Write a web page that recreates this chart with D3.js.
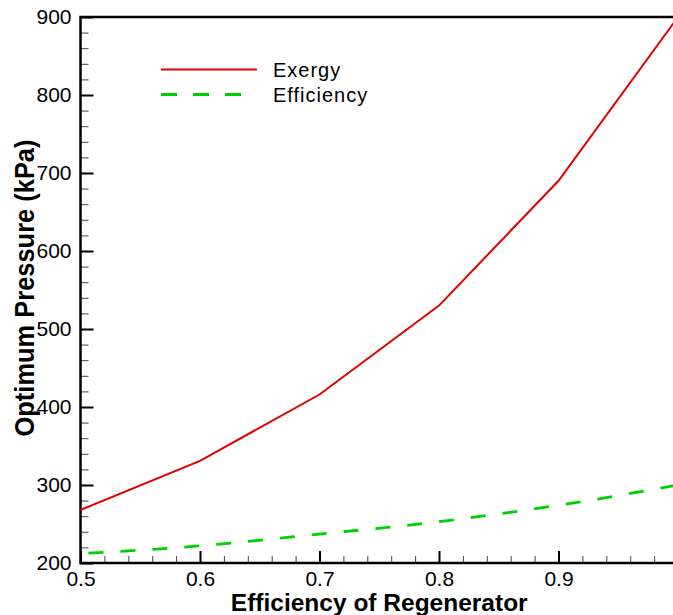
<!DOCTYPE html>
<html>
<head>
<meta charset="utf-8">
<script src="https://cdn.jsdelivr.net/npm/d3@7"></script>
<style>
  html, body { margin: 0; padding: 0; background: #fff; }
  svg { display: block; font-family: "Liberation Sans", Arial, sans-serif; }
</style>
</head>
<body>
<svg id="chart" width="673" height="615"></svg>
<script>
// Regenerator efficiency (x) and optimum pressure in kPa for each criterion
const efficiency = [0.5, 0.6, 0.7, 0.8, 0.9, 1.0];
const exergyPressure = [268, 331, 416, 530, 690, 900];
const efficiencyPressure = [212, 222, 237, 253, 274, 300];
const xTicks = [0.5, 0.6, 0.7, 0.8, 0.9];
const yTicks = [200, 300, 400, 500, 600, 700, 800, 900];
const seriesNames = ["Exergy", "Efficiency"];

const svg = d3.select("#chart");
const plotLeft = 80.5, plotRight = 678, plotTop = 17, plotBottom = 563;

const x = d3.scaleLinear().domain([0.5, 1.0]).range([plotLeft, plotRight]);
const y = d3.scaleLinear().domain([200, 900]).range([plotBottom, plotTop]);

const xMinor = d3.range(0.52, 1.0, 0.02).filter(v => Math.abs(v * 10 - Math.round(v * 10)) > 1e-6);
const yMinor = d3.range(220, 900, 20).filter(v => v % 100 !== 0);

// Minor ticks (inward)
svg.append("g")
  .attr("transform", `translate(0,${plotBottom})`)
  .call(d3.axisBottom(x).tickValues(xMinor).tickSize(-7).tickFormat(""))
  .call(g => g.select(".domain").remove())
  .call(g => g.selectAll("line").attr("stroke", "#444").attr("stroke-width", 1));
svg.append("g")
  .attr("transform", `translate(${plotLeft},0)`)
  .call(d3.axisLeft(y).tickValues(yMinor).tickSize(-8).tickFormat(""))
  .call(g => g.select(".domain").remove())
  .call(g => g.selectAll("line").attr("stroke", "#444").attr("stroke-width", 1));

// Major ticks with labels
svg.append("g")
  .attr("transform", `translate(0,${plotBottom})`)
  .call(d3.axisBottom(x).tickValues(xTicks).tickSize(-12).tickPadding(8).tickFormat(d3.format(".1f")))
  .call(g => g.select(".domain").remove())
  .call(g => g.selectAll("line").attr("stroke", "#000").attr("stroke-width", 2))
  .call(g => g.selectAll("text").attr("font-size", 21).attr("fill", "#000")
    .attr("font-family", "'Liberation Sans', Arial, sans-serif"));
svg.append("g")
  .attr("transform", `translate(${plotLeft},0)`)
  .call(d3.axisLeft(y).tickValues(yTicks).tickSize(-13).tickPadding(9))
  .call(g => g.select(".domain").remove())
  .call(g => g.selectAll("line").attr("stroke", "#000").attr("stroke-width", 2))
  .call(g => g.selectAll("text").attr("font-size", 21).attr("fill", "#000")
    .attr("font-family", "'Liberation Sans', Arial, sans-serif"));

// Frame
svg.append("rect")
  .attr("x", plotLeft).attr("y", plotTop)
  .attr("width", plotRight - plotLeft).attr("height", plotBottom - plotTop)
  .attr("fill", "none").attr("stroke", "#000").attr("stroke-width", 2.5);

// Curves
const line = d3.line().x(d => x(d[0])).y(d => y(d[1]));
svg.append("path")
  .datum(efficiency.map((e, i) => [e, exergyPressure[i]]))
  .attr("d", line).attr("fill", "none")
  .attr("stroke", "#e00000").attr("stroke-width", 2);
svg.append("path")
  .datum(efficiency.map((e, i) => [e, efficiencyPressure[i]]))
  .attr("d", d3.line().curve(d3.curveMonotoneX).x(d => x(d[0])).y(d => y(d[1])))
  .attr("fill", "none")
  .attr("stroke", "#00d000").attr("stroke-width", 2.8)
  .attr("stroke-dasharray", "15,17").attr("stroke-dashoffset", -8);

// Legend
const legend = svg.append("g");
const styles = [
  { color: "#e00000", width: 2, dash: null },
  { color: "#00d000", width: 2.8, dash: "16,16" }
];
seriesNames.forEach((name, i) => {
  const ly = 69.5 + i * 25;
  legend.append("line")
    .attr("x1", 161).attr("x2", 257).attr("y1", ly).attr("y2", ly)
    .attr("stroke", styles[i].color).attr("stroke-width", styles[i].width)
    .attr("stroke-dasharray", styles[i].dash);
  legend.append("text")
    .attr("x", 273).attr("y", ly + 7)
    .attr("font-size", 20).attr("letter-spacing", 1)
    .attr("fill", "#000").text(name);
});

// Axis titles
svg.append("text")
  .attr("x", (plotLeft + plotRight) / 2).attr("y", 611)
  .attr("text-anchor", "middle").attr("font-size", 24.5).attr("font-weight", "bold")
  .text("Efficiency of Regenerator");
svg.append("text")
  .attr("transform", `translate(34,${(plotTop + plotBottom) / 2 - 2}) rotate(-90)`)
  .attr("text-anchor", "middle").attr("font-size", 27).attr("font-weight", "bold")
  .attr("textLength", 297).attr("lengthAdjust", "spacingAndGlyphs")
  .text("Optimum Pressure (kPa)");
</script>
</body>
</html>
